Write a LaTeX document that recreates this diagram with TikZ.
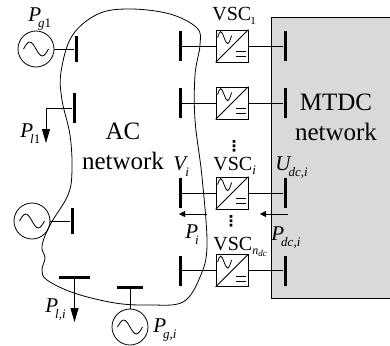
\documentclass[tikz,border=0pt]{standalone}
\usepackage{fontspec}
\setmainfont{Liberation Serif}
\newfontfamily\dotsFont{DejaVu Sans}[BoldFont=* Bold]
\usetikzlibrary{arrows.meta}
\newcommand{\varSub}[2]{\textit{#1}\kern-3pt\raisebox{-6pt}{\fontsize{13}{13}\selectfont #2}}
\begin{document}
\begin{tikzpicture}[x=1pt, y=-1pt, line width=0.8pt,
busV/.style={rectangle, fill=black, inner sep=0pt, minimum width=3pt, minimum height=30pt} ,
busH/.style={rectangle, fill=black, inner sep=0pt, minimum height=3pt} ,
genCircle/.style={circle, draw, inner sep=0pt, minimum size=36pt} ,
vscBox/.style={rectangle, draw, fill=white, inner sep=0pt, minimum size=32pt} ,
bigText/.style={inner sep=0pt, align=center, font=\fontsize{25}{30}\selectfont} ,
vscText/.style={inner sep=0pt, anchor=base west, font=\fontsize{20}{20}\selectfont} ,
varText/.style={inner sep=0pt, anchor=base west, font=\fontsize{21}{21}\selectfont} ,
dotsText/.style={inner sep=0pt, font=\dotsFont\bfseries\fontsize{15}{15}\selectfont} ,
loadArrow/.style={-{Triangle[width=8pt, length=14pt]}} ,
flowArrow/.style={-{Triangle[width=6pt, length=6pt]}}
]
\useasboundingbox (0,0) rectangle (390,345);

\node (mtdc) [rectangle, draw, fill=gray!30, inner sep=0pt, minimum width=122pt, minimum height=281pt] at (332,157.5) {};

\draw plot[smooth cycle, tension=0.6] coordinates {
    (130,9) (170,14) (197,28) (200,45) (195,75) (195,120) (202,177) (207,245) (200,277)
    (183,302) (150,305) (115,303) (74,293) (47,280) (42,270) (45,258) (42,246) (50,225) (68,195) (72,170)
    (70,135) (62,100) (61,72) (72,36) (98,14)
};

\node [bigText] (acText) at (123,146) {AC\\network};
\node [bigText] (mtdcText) at (336,117) {MTDC\\network};

\foreach \name/\y in {1/46, 2/103, i/193, n/270.5} {
    \node [vscBox] (vsc\name) at (232,\y) {};
    \node [busV] (acbus\name) at (180,\y) {};
    \node [busV] (dcbus\name) at (285,\y) {};
    \draw (acbus\name) -- (vsc\name);
    \draw (vsc\name) -- (dcbus\name);
    \draw (vsc\name.south west) -- (vsc\name.north east);
    \draw ([shift={(2,8)}]vsc\name.north west) sin ++(3,-6) cos ++(3.5,6) sin ++(3.5,6) cos ++(4,-8);
    \draw ([shift={(20,22)}]vsc\name.north west) -- +(10,0);
    \draw ([shift={(20,27)}]vsc\name.north west) -- +(10,0);
}

\node [genCircle] (gen1) at (36,49) {};
\node [busV, minimum height=26pt] (busg1) at (76,49) {};
\draw (gen1) -- (busg1);
\draw ([xshift=-12.5pt]gen1.center) sin ++(6.25,-7) cos ++(6.25,7) sin ++(6.25,7) cos ++(6.25,-7);

\node [genCircle] (gen2) at (32,221) {};
\node [busV, minimum height=26pt] (busg2) at (72,221) {};
\draw (gen2) -- (busg2);
\draw ([xshift=-12.5pt]gen2.center) sin ++(6.25,-7) cos ++(6.25,7) sin ++(6.25,7) cos ++(6.25,-7);

\node [genCircle] (geni) at (130,327) {};
\node [busH, minimum width=26pt] (busgi) at (130,287) {};
\draw (geni) -- (busgi);
\draw ([xshift=-12.5pt]geni.center) sin ++(6.25,-7) cos ++(6.25,7) sin ++(6.25,7) cos ++(6.25,-7);

\node [busV] (busl1) at (74,108) {};
\coordinate (tipl1) at (46,143);
\draw [loadArrow] (busl1) -| (tipl1);

\node [busH, minimum width=31pt] (busli) at (74.5,277) {};
\coordinate (tipli) at (74.5,322);
\draw [loadArrow] (busli) -- (tipli);

\coordinate (tailac) at (207,214);
\coordinate (tipac) at (179,214);
\draw [flowArrow] (tailac) -- (tipac);
\coordinate (taildc) at (288,214);
\coordinate (tipdc) at (260,214);
\draw [flowArrow] (taildc) -- (tipdc);

\node [vscText] (vsc1Text) at (212,21) {VSC\kern-1pt\raisebox{-4pt}{\fontsize{11}{11}\selectfont 1}};
\node [vscText] (vsciText) at (213,170) {VSC\raisebox{-4pt}{\fontsize{13}{13}\selectfont\textit{i}}};
\node [vscText] (vscnText) at (213,250) {VSC\raisebox{-4pt}{\fontsize{12}{12}\selectfont\textit{n}\raisebox{-2pt}{\fontsize{9}{9}\selectfont\textit{dc}}}};

\node [dotsText] (dots1) at (234,146) {⋮};
\node [dotsText] (dots2) at (231,221) {⋮};

\node [varText] (pg1) at (28,22) {\varSub{P}{\textit{g}1}};
\node [varText] (pl1) at (20,137) {\varSub{P}{\textit{l}1}};
\node [varText] (pli) at (45,312) {\varSub{P}{\textit{l,i}}};
\node [varText] (pgi) at (153,332) {\varSub{P}{\textit{g,i}}};
\node [varText] (vi) at (173,170) {\varSub{V}{\textit{i}}};
\node [varText] (udc) at (275,170) {\varSub{U}{\textit{dc,i}}};
\node [varText] (pi) at (185,238) {\varSub{P}{\textit{i}}};
\node [varText] (pdc) at (271,240) {\varSub{P}{\textit{dc,i}}};
\end{tikzpicture}
\end{document}
